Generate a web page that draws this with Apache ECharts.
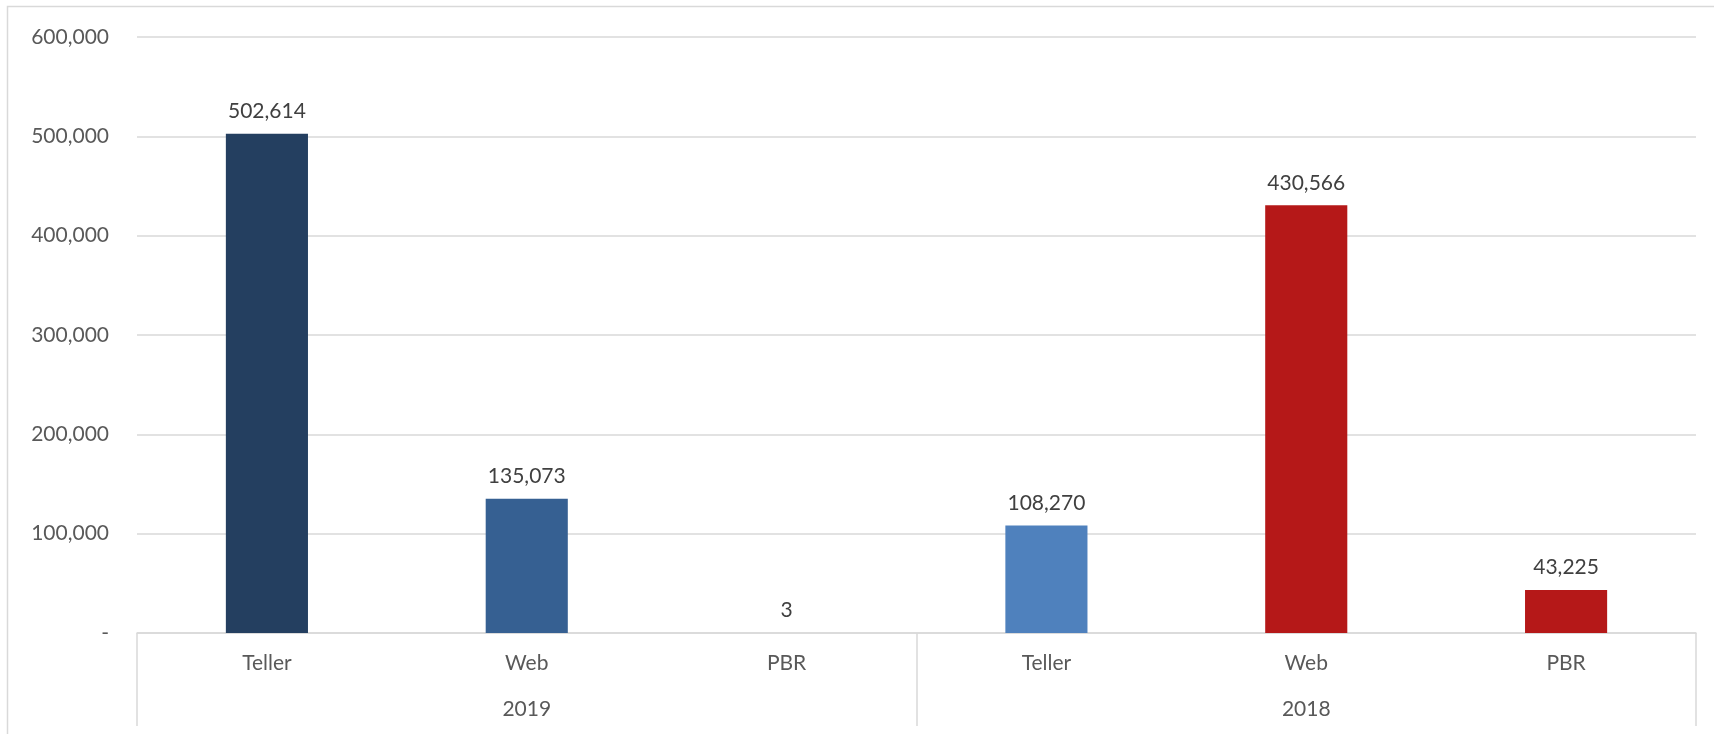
<!DOCTYPE html>
<html>
<head>
<meta charset="utf-8">
<script src="https://cdn.jsdelivr.net/npm/echarts@6/dist/echarts.min.js"></script>
<style>
  html, body { margin: 0; padding: 0; background: #fff; }
  #chart { width: 1714px; height: 734px; }
</style>
</head>
<body>
<div id="chart"></div>
<script>
// channels per year, and the year groups under them
var channels = ['Teller', 'Web', 'PBR', 'Teller', 'Web', 'PBR'];
var years = ['2019', '2018'];
var counts = [502614, 135073, 3, 108270, 430566, 43225];
var barColors = ['#243f60', '#366092', '#366092', '#4f81bd', '#b51818', '#b51818'];
var yTicks = [0, 100000, 200000, 300000, 400000, 500000, 600000];

var font = 'Lato, "Open Sans", sans-serif';

function fmt(v) {
  if (v === 0) return '-';
  return v.toString().replace(/\B(?=(\d{3})+(?!\d))/g, ',');
}

var chart = echarts.init(document.getElementById('chart'));

var option = {
  animation: false,
  textStyle: { fontFamily: font },
  grid: { left: 137, right: 18, top: 37, bottom: 101 },
  graphic: [{
    type: 'rect',
    shape: { x: 7.5, y: 6.5, width: 1760, height: 780 },
    style: { fill: 'none', stroke: '#d9d9d9', lineWidth: 1.5 },
    silent: true
  }],
  xAxis: [{
    type: 'category',
    data: channels,
    axisLine: { lineStyle: { color: '#d9d9d9', width: 1.5 } },
    axisTick: { show: false },
    axisLabel: { color: '#595959', fontSize: 21, fontFamily: font, margin: 20 }
  }, {
    type: 'category',
    data: years,
    position: 'bottom',
    axisLine: { show: false },
    axisTick: { show: true, length: 93, lineStyle: { color: '#d9d9d9', width: 1.5 } },
    axisLabel: { color: '#595959', fontSize: 21, fontFamily: font, margin: 66 }
  }],
  yAxis: {
    type: 'value',
    min: yTicks[0],
    max: yTicks[yTicks.length - 1],
    interval: 100000,
    axisLine: { show: false },
    axisTick: { show: false },
    splitLine: { lineStyle: { color: '#d9d9d9', width: 1.5 } },
    axisLabel: { color: '#595959', fontSize: 21, fontFamily: font, margin: 28, formatter: fmt }
  },
  series: [{
    type: 'bar',
    xAxisIndex: 0,
    barWidth: '31.6%',
    data: counts.map(function (v, i) {
      return { value: v, itemStyle: { color: barColors[i] } };
    }),
    label: {
      show: true,
      position: 'top',
      distance: 12,
      color: '#404040',
      fontSize: 21,
      fontFamily: font,
      formatter: function (p) { return fmt(p.value); }
    }
  }]
};

chart.setOption(option);
</script>
</body>
</html>
